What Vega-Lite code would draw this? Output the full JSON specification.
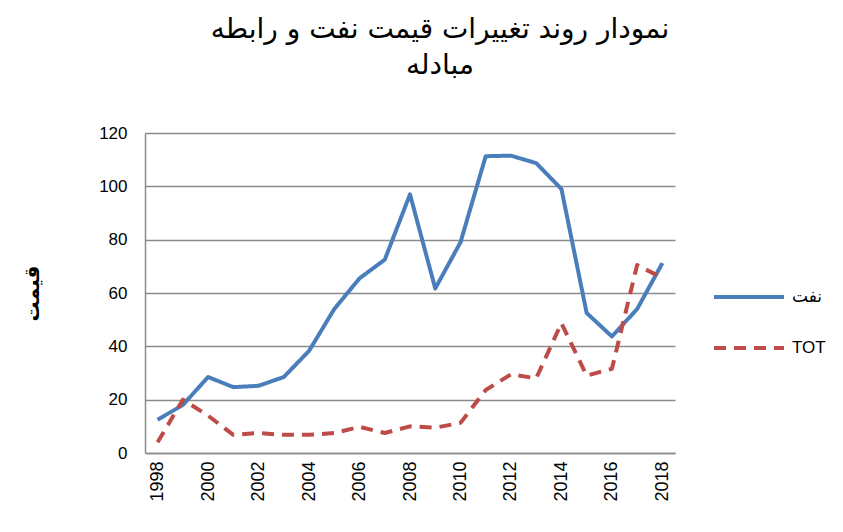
{
  "$schema": "https://vega.github.io/schema/vega-lite/v6.json",
  "width": 530,
  "height": 320,
  "autosize": {"type": "none"},
  "padding": {"left": 145, "top": 133, "right": 168, "bottom": 79},
  "background": "white",
  "title": {
    "text": ["نمودار روند تغییرات قیمت نفت و رابطه", "مبادله"],
    "font": "DejaVu Sans",
    "fontSize": 28,
    "fontWeight": "normal",
    "color": "#000000",
    "anchor": "middle",
    "frame": "group",
    "dx": 30,
    "offset": 44,
    "lineHeight": 36
  },
  "data": {
    "values": [
      {"year": "1998", "series": "نفت", "value": 12.5},
      {"year": "1999", "series": "نفت", "value": 18},
      {"year": "2000", "series": "نفت", "value": 28.5},
      {"year": "2001", "series": "نفت", "value": 24.7},
      {"year": "2002", "series": "نفت", "value": 25.2},
      {"year": "2003", "series": "نفت", "value": 28.5},
      {"year": "2004", "series": "نفت", "value": 38.3},
      {"year": "2005", "series": "نفت", "value": 54},
      {"year": "2006", "series": "نفت", "value": 65.5},
      {"year": "2007", "series": "نفت", "value": 72.5},
      {"year": "2008", "series": "نفت", "value": 97},
      {"year": "2009", "series": "نفت", "value": 61.7},
      {"year": "2010", "series": "نفت", "value": 79},
      {"year": "2011", "series": "نفت", "value": 111.3},
      {"year": "2012", "series": "نفت", "value": 111.5},
      {"year": "2013", "series": "نفت", "value": 108.7},
      {"year": "2014", "series": "نفت", "value": 99},
      {"year": "2015", "series": "نفت", "value": 52.5},
      {"year": "2016", "series": "نفت", "value": 43.7},
      {"year": "2017", "series": "نفت", "value": 54},
      {"year": "2018", "series": "نفت", "value": 71.2},
      {"year": "1998", "series": "TOT", "value": 4},
      {"year": "1999", "series": "TOT", "value": 20},
      {"year": "2000", "series": "TOT", "value": 14},
      {"year": "2001", "series": "TOT", "value": 6.8},
      {"year": "2002", "series": "TOT", "value": 7.5},
      {"year": "2003", "series": "TOT", "value": 6.8},
      {"year": "2004", "series": "TOT", "value": 6.8},
      {"year": "2005", "series": "TOT", "value": 7.5},
      {"year": "2006", "series": "TOT", "value": 9.8},
      {"year": "2007", "series": "TOT", "value": 7.5},
      {"year": "2008", "series": "TOT", "value": 10},
      {"year": "2009", "series": "TOT", "value": 9.5},
      {"year": "2010", "series": "TOT", "value": 11.3},
      {"year": "2011", "series": "TOT", "value": 23.6},
      {"year": "2012", "series": "TOT", "value": 29.5},
      {"year": "2013", "series": "TOT", "value": 28},
      {"year": "2014", "series": "TOT", "value": 48.7},
      {"year": "2015", "series": "TOT", "value": 29},
      {"year": "2016", "series": "TOT", "value": 31.6},
      {"year": "2017", "series": "TOT", "value": 70.5},
      {"year": "2018", "series": "TOT", "value": 65.6}
    ]
  },
  "mark": {"type": "line", "strokeWidth": 4, "interpolate": "linear", "strokeJoin": "round"},
  "encoding": {
    "x": {
      "field": "year",
      "type": "ordinal",
      "scale": {"type": "point", "padding": 0.5},
      "axis": {
        "title": null,
        "labelAngle": -90,
        "labelFont": "Liberation Sans",
        "labelFontSize": 18,
        "labelColor": "#000000",
        "labelPadding": 8,
        "labelExpr": "toNumber(datum.value) % 2 === 0 ? datum.value : ''",
        "ticks": false,
        "domainColor": "#8c8c8c",
        "domainWidth": 1.5,
        "grid": false
      }
    },
    "y": {
      "field": "value",
      "type": "quantitative",
      "scale": {"domain": [0, 120], "nice": false},
      "axis": {
        "values": [0, 20, 40, 60, 80, 100, 120],
        "title": "قیمت",
        "titleFont": "DejaVu Sans",
        "titleFontSize": 20,
        "titleFontWeight": "bold",
        "titleColor": "#000000",
        "titleX": -113,
        "titleY": 160,
        "titleAlign": "center",
        "titleBaseline": "middle",
        "labelFont": "Liberation Sans",
        "labelFontSize": 17,
        "labelColor": "#000000",
        "labelPadding": 18,
        "ticks": false,
        "domainColor": "#8c8c8c",
        "domainWidth": 1.5,
        "grid": true,
        "gridColor": "#8c8c8c",
        "gridWidth": 1.5
      }
    },
    "color": {
      "field": "series",
      "type": "nominal",
      "scale": {"domain": ["نفت", "TOT"], "range": ["#4A7EBB", "#BE4B48"]},
      "legend": {
        "title": null,
        "orient": "none",
        "legendX": 567,
        "legendY": 127,
        "symbolType": "stroke",
        "symbolSize": 4900,
        "symbolStrokeWidth": 4,
        "labelFont": "Liberation Sans, DejaVu Sans",
        "labelFontSize": 17,
        "labelColor": "#000000",
        "rowPadding": 6,
        "labelOffset": 6
      }
    },
    "strokeDash": {
      "field": "series",
      "type": "nominal",
      "scale": {"domain": ["نفت", "TOT"], "range": [[1, 0], [12, 8]]},
      "legend": null
    }
  },
  "config": {
    "view": {"stroke": null}
  }
}
